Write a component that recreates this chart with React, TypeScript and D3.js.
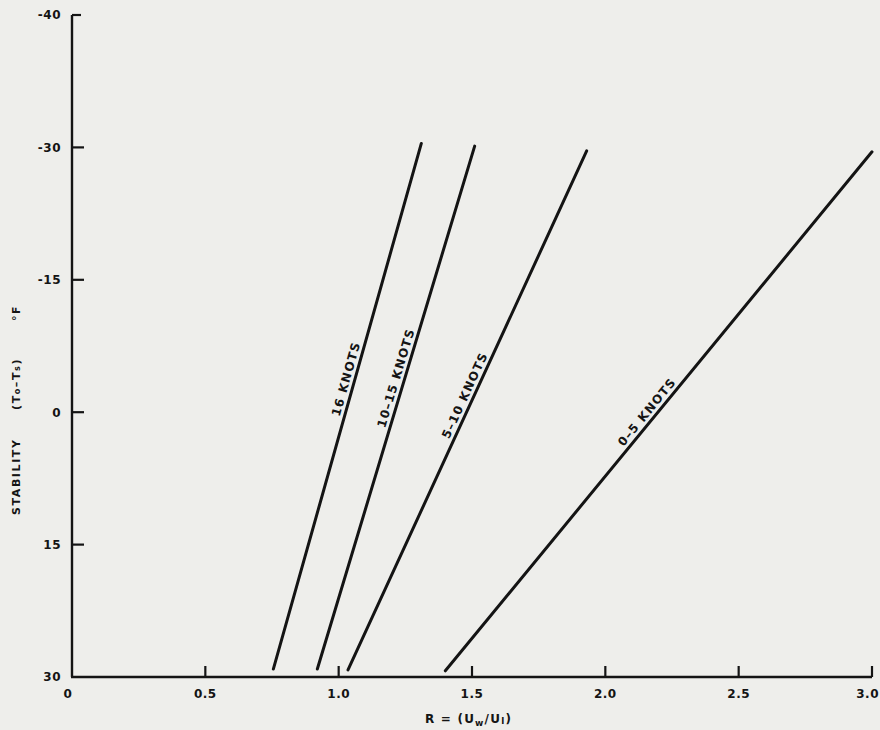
import * as d3 from "d3";

// stability (Ta - Ts) tick values, evenly spaced on the page although the steps differ
const stabilityTicks = [-40, -30, -15, 0, 15, 30];
const stabilityLabels = ["-40", "-30", "-15", "0", "15", "30"];
const ratioTicks = [0, 0.5, 1.0, 1.5, 2.0, 2.5, 3.0];
const ratioLabels = ["0", "0.5", "1.0", "1.5", "2.0", "2.5", "3.0"];

// one straight line per wind-speed band
const bandNames = ["16 KNOTS", "10\u201315 KNOTS", "5\u201310 KNOTS", "0\u20135 KNOTS"];
const ratioAtTop = [1.31, 1.51, 1.93, 3.0];
const stabilityAtTop = [-30.3, -30.1, -29.6, -29.5];
const ratioAtBottom = [0.755, 0.92, 1.035, 1.4];
const stabilityAtBottom = [29.1, 29.1, 29.2, 29.3];
const labelStability = [-3.5, -3.6, -1.5, 0.6];

const WIDTH = 880;
const HEIGHT = 730;
const FONT = "'DejaVu Sans', Verdana, sans-serif";
const INK = "#141414";

export default function App() {
  const x = d3.scaleLinear().domain([0, 3]).range([72, 872]);
  const yTop = 15;
  const yBottom = 677;
  const step = (yBottom - yTop) / (stabilityTicks.length - 1);
  const y = d3
    .scaleLinear()
    .domain(stabilityTicks)
    .range(stabilityTicks.map((_, i) => yTop + i * step));

  const line = d3
    .line<[number, number]>()
    .x((d) => x(d[0]))
    .y((d) => y(d[1]));

  const bands = bandNames.map((name, i) => {
    const pts: [number, number][] = [
      [ratioAtBottom[i], stabilityAtBottom[i]],
      [ratioAtTop[i], stabilityAtTop[i]],
    ];
    const x0 = x(pts[0][0]);
    const y0 = y(pts[0][1]);
    const x1 = x(pts[1][0]);
    const y1 = y(pts[1][1]);
    const t = (y(labelStability[i]) - y0) / (y1 - y0);
    const lx = x0 + t * (x1 - x0);
    const ly = y0 + t * (y1 - y0);
    const angle = (Math.atan2(y1 - y0, x1 - x0) * 180) / Math.PI;
    return { name, d: line(pts) || undefined, lx, ly, angle };
  });

  return (
    <svg
      width={WIDTH}
      height={HEIGHT}
      style={{ position: "absolute", left: 0, top: 0, background: "#eeeeeb" }}
      fontFamily={FONT}
      fill={INK}
    >
      {/* axes */}
      <line x1={x(0)} x2={x(0)} y1={yTop} y2={yBottom} stroke={INK} strokeWidth={2.4} />
      <line x1={x(0) - 1} x2={x(3)} y1={yBottom} y2={yBottom} stroke={INK} strokeWidth={2.4} />
      <line x1={x(0)} x2={x(0) + 9} y1={yTop} y2={yTop} stroke={INK} strokeWidth={2.2} />

      {stabilityTicks.slice(1, -1).map((v) => (
        <line key={v} x1={x(0)} x2={x(0) + 12} y1={y(v)} y2={y(v)} stroke={INK} strokeWidth={2.2} />
      ))}
      {ratioTicks.slice(1).map((v) => (
        <line key={v} x1={x(v)} x2={x(v)} y1={yBottom} y2={yBottom - 11} stroke={INK} strokeWidth={2.2} />
      ))}

      {stabilityTicks.map((v, i) => (
        <text
          key={v}
          x={61}
          y={y(v)}
          dy="0.36em"
          textAnchor="end"
          fontSize={12}
          fontWeight="bold"
          letterSpacing={0.5}
        >
          {stabilityLabels[i]}
        </text>
      ))}
      {ratioTicks.map((v, i) => {
        const last = i === ratioTicks.length - 1;
        return (
          <text
            key={v}
            x={last ? 879 : x(v) - (i === 0 ? 4 : 0)}
            y={698}
            textAnchor={last ? "end" : "middle"}
            fontSize={12}
            fontWeight="bold"
            letterSpacing={0.5}
          >
            {ratioLabels[i]}
          </text>
        );
      })}

      {/* y title */}
      <g transform="translate(20,0) rotate(-90)" fontSize={11} fontWeight="bold" letterSpacing={1.6}>
        <text x={-515}>STABILITY</text>
        <text x={-410}>
          (T<tspan fontSize={8}>o</tspan>
          {"\u2013T"}
          <tspan fontSize={8}>s</tspan>)
        </text>
        <text x={-321}>{"\u00b0F"}</text>
      </g>

      {/* x title */}
      <text x={425} y={723} fontSize={12} fontWeight="bold" letterSpacing={1.2}>
        {"R = (U"}
        <tspan fontSize={9} dy={3}>w</tspan>
        <tspan dy={-3}>/U</tspan>
        <tspan fontSize={9} dy={1}>l</tspan>
        <tspan dy={-1}>)</tspan>
      </text>

      {/* wind-speed lines */}
      {bands.map((b) => (
        <g key={b.name}>
          <path d={b.d} stroke={INK} strokeWidth={3} fill="none" strokeLinecap="round" />
          <text
            transform={`translate(${b.lx},${b.ly}) rotate(${b.angle})`}
            dy={-4.5}
            textAnchor="middle"
            fontSize={12}
            fontWeight="bold"
            letterSpacing={1.2}
          >
            {b.name}
          </text>
        </g>
      ))}
    </svg>
  );
}
